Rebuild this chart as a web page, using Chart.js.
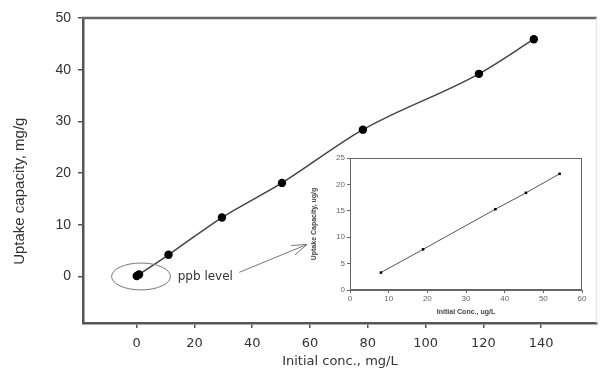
<!DOCTYPE html>
<html>
<head>
<meta charset="utf-8">
<script src="https://cdn.jsdelivr.net/npm/chart.js@4/dist/chart.umd.min.js"></script>
<style>
  html, body { margin: 0; padding: 0; background: #fff; }
  #wrap { position: relative; width: 601px; height: 376px; }
  #main { position: absolute; left: 0; top: 0; }
  #inset { position: absolute; left: 310px; top: 150px; }
</style>
</head>
<body>
<div id="wrap">
  <canvas id="main" width="601" height="376"></canvas>
  <canvas id="inset" width="285" height="172"></canvas>
</div>
<script>
// ---- Main chart data (mg/L vs mg/g) ----
const mainConc = [0, 0.8, 11, 29.5, 50.3, 78.3, 118.5, 137.5];
const mainUptake = [0.1, 0.4, 4.2, 11.4, 18.1, 28.4, 39.2, 45.9];
const mainXTicks = [0, 20, 40, 60, 80, 100, 120, 140];
const mainYTicks = [0, 10, 20, 30, 40, 50];
const mainYTitle = 'Uptake capacity, mg/g';
const mainXTitle = 'Initial conc., mg/L';

// ---- Inset data (ug/L vs ug/g) ----
const insetConc = [8, 18.9, 37.6, 45.5, 54.2];
const insetUptake = [3.3, 7.7, 15.3, 18.4, 22.0];
const insetXTicks = [0, 10, 20, 30, 40, 50, 60];
const insetYTicks = [0, 5, 10, 15, 20, 25];

// ---- Annotation (in data units of main chart) ----
const ellipseCenter = [1.5, 0];
const ellipseRadius = [10.2, 2.6];
const ppbLabel = 'ppb level';
const ppbLabelPos = [14.2, 0];
const arrowFrom = [35.5, 0.8];
const arrowTo = [59, 6.2];
const yTitleCenterValue = 16.5; // y-axis title is drawn centred at this value

const toPts = (xs, ys) => xs.map((x, i) => ({ x: x, y: ys[i] }));

const mainDecor = {
  id: 'mainDecor',
  afterDraw(chart) {
    const { ctx, chartArea: ca, scales } = chart;
    const xs = scales.x, ys = scales.y;
    ctx.save();
    // top frame line
    ctx.strokeStyle = '#666';
    ctx.lineWidth = 2.5;
    ctx.beginPath();
    ctx.moveTo(ca.left - 1, ca.top);
    ctx.lineTo(ca.right, ca.top);
    ctx.stroke();
    // faint right border
    ctx.strokeStyle = '#e2e2e2';
    ctx.lineWidth = 1;
    ctx.beginPath();
    ctx.moveTo(ca.right - 0.5, ca.top);
    ctx.lineTo(ca.right - 0.5, ca.bottom);
    ctx.stroke();
    // y-axis title
    ctx.save();
    ctx.translate(ys.left + 20, ys.getPixelForValue(yTitleCenterValue));
    ctx.rotate(-Math.PI / 2);
    ctx.fillStyle = '#333';
    ctx.font = '15px "Liberation Sans"';
    ctx.textAlign = 'center';
    ctx.textBaseline = 'middle';
    ctx.fillText(mainYTitle, 0, 0);
    ctx.restore();
    // ellipse
    const cx = xs.getPixelForValue(ellipseCenter[0]);
    const cy = ys.getPixelForValue(ellipseCenter[1]);
    const rx = Math.abs(xs.getPixelForValue(ellipseCenter[0] + ellipseRadius[0]) - cx);
    const ry = Math.abs(ys.getPixelForValue(ellipseCenter[1] + ellipseRadius[1]) - cy);
    ctx.strokeStyle = '#777';
    ctx.lineWidth = 1;
    ctx.beginPath();
    ctx.ellipse(cx, cy, rx, ry, 0, 0, Math.PI * 2);
    ctx.stroke();
    // label
    ctx.fillStyle = '#333';
    ctx.font = '12px "DejaVu Sans"';
    ctx.textAlign = 'left';
    ctx.textBaseline = 'middle';
    ctx.fillText(ppbLabel, xs.getPixelForValue(ppbLabelPos[0]), ys.getPixelForValue(ppbLabelPos[1]));
    // arrow
    const x1 = xs.getPixelForValue(arrowFrom[0]), y1 = ys.getPixelForValue(arrowFrom[1]);
    const x2 = xs.getPixelForValue(arrowTo[0]), y2 = ys.getPixelForValue(arrowTo[1]);
    ctx.strokeStyle = '#777';
    ctx.lineWidth = 1;
    ctx.beginPath();
    ctx.moveTo(x1, y1);
    ctx.lineTo(x2, y2);
    const ang = Math.atan2(y2 - y1, x2 - x1);
    const L = 16, a = 0.32;
    ctx.moveTo(x2, y2);
    ctx.lineTo(x2 - L * Math.cos(ang - a), y2 - L * Math.sin(ang - a));
    ctx.moveTo(x2, y2);
    ctx.lineTo(x2 - L * Math.cos(ang + a), y2 - L * Math.sin(ang + a));
    ctx.stroke();
    ctx.restore();
  }
};

new Chart(document.getElementById('main'), {
  type: 'scatter',
  data: {
    datasets: [{
      data: toPts(mainConc, mainUptake),
      showLine: true,
      borderColor: '#444',
      borderWidth: 1.5,
      cubicInterpolationMode: 'monotone',
      pointRadius: 4.2,
      pointBackgroundColor: '#000',
      pointBorderColor: '#000',
      pointBorderWidth: 0
    }]
  },
  options: {
    responsive: false,
    animation: false,
    events: [],
    layout: { padding: { top: 18, right: 2, left: 0, bottom: 0 } },
    plugins: { legend: { display: false }, tooltip: { enabled: false } },
    scales: {
      x: {
        type: 'linear',
        min: -18.6,
        max: 159.3,
        afterBuildTicks(s) { s.ticks = mainXTicks.map(v => ({ value: v })); },
        afterFit(s) { s.height = 53; },
        grid: { drawOnChartArea: false, drawTicks: true, tickLength: 5, color: '#555', lineWidth: 1.5 },
        border: { display: true, color: '#555', width: 2.5 },
        ticks: { color: '#333', font: { family: 'DejaVu Sans', size: 13 }, padding: 8, maxRotation: 0 },
        title: { display: true, text: mainXTitle, color: '#333', font: { family: 'DejaVu Sans', size: 13 }, padding: { top: 0, bottom: 7 } }
      },
      y: {
        type: 'linear',
        min: -9,
        max: 50,
        afterBuildTicks(s) { s.ticks = mainYTicks.map(v => ({ value: v })); },
        afterFit(s) { s.width = 83; },
        grid: { drawOnChartArea: false, drawTicks: true, tickLength: 5, color: '#555', lineWidth: 1.5 },
        border: { display: true, color: '#555', width: 2.5 },
        ticks: { color: '#333', font: { family: 'Liberation Sans', size: 14 }, padding: 7 },
        title: { display: false }
      }
    }
  },
  plugins: [mainDecor]
});

const insetFrame = {
  id: 'insetFrame',
  afterDraw(chart) {
    const { ctx, chartArea: ca } = chart;
    ctx.save();
    ctx.strokeStyle = '#666';
    ctx.lineWidth = 1;
    ctx.strokeRect(ca.left + 0.5, ca.top + 0.5, ca.right - ca.left - 1, ca.bottom - ca.top - 1);
    ctx.restore();
  }
};

new Chart(document.getElementById('inset'), {
  type: 'scatter',
  data: {
    datasets: [{
      data: toPts(insetConc, insetUptake),
      showLine: true,
      borderColor: '#555',
      borderWidth: 1,
      tension: 0,
      pointStyle: 'rect',
      pointRadius: 1.8,
      pointBackgroundColor: '#000',
      pointBorderColor: '#000',
      pointBorderWidth: 0
    }]
  },
  options: {
    responsive: false,
    animation: false,
    events: [],
    layout: { padding: { top: 8, right: 13, left: 0, bottom: 0 } },
    plugins: { legend: { display: false }, tooltip: { enabled: false } },
    scales: {
      x: {
        type: 'linear',
        min: 0,
        max: 60,
        afterBuildTicks(s) { s.ticks = insetXTicks.map(v => ({ value: v })); },
        afterFit(s) { s.height = 32; },
        grid: { drawOnChartArea: false, drawTicks: true, tickLength: 3, color: '#666', lineWidth: 1 },
        border: { display: true, color: '#666', width: 1 },
        ticks: { color: '#666', font: { family: 'Liberation Sans', size: 8 }, padding: 1, maxRotation: 0 },
        title: { display: true, text: 'Initial Conc., ug/L', color: '#444', font: { family: 'Liberation Sans', size: 7, weight: 'bold' }, padding: { top: 0, bottom: 6 } }
      },
      y: {
        type: 'linear',
        min: 0,
        max: 25,
        afterBuildTicks(s) { s.ticks = insetYTicks.map(v => ({ value: v })); },
        afterFit(s) { s.width = 40; },
        grid: { drawOnChartArea: false, drawTicks: true, tickLength: 3, color: '#666', lineWidth: 1 },
        border: { display: true, color: '#666', width: 1 },
        ticks: { color: '#666', font: { family: 'Liberation Sans', size: 8 }, padding: 2 },
        title: { display: true, text: 'Uptake Capacity, ug/g', color: '#444', font: { family: 'Liberation Sans', size: 7, weight: 'bold' }, padding: { top: 0, bottom: 0 } }
      }
    }
  },
  plugins: [insetFrame]
});
</script>
</body>
</html>
